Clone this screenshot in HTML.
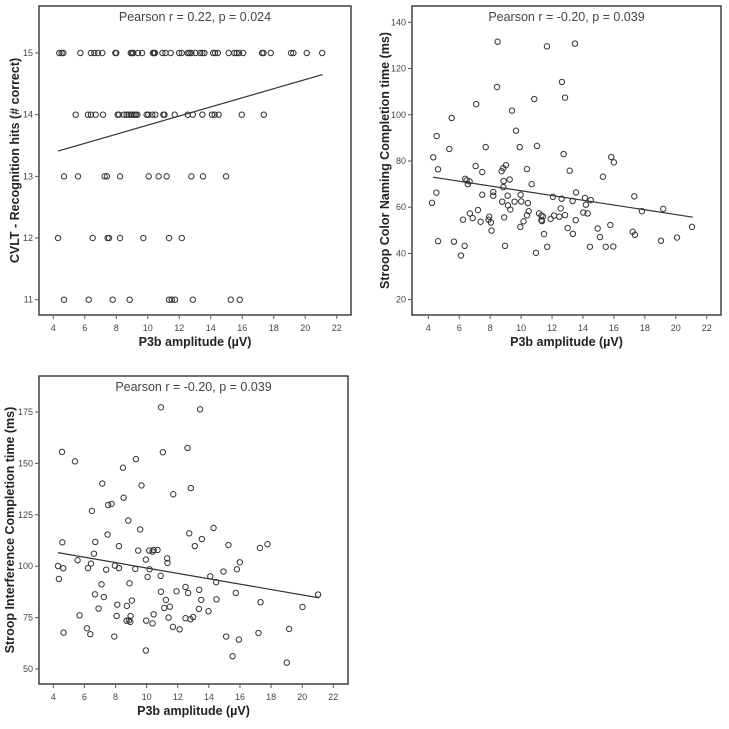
<!DOCTYPE html>
<html><head><meta charset="utf-8"><style>
body{margin:0;background:#fff;width:729px;height:724px;overflow:hidden}
svg{font-family:"Liberation Sans",sans-serif}
</style></head><body>
<svg id="c" width="729" height="724"></svg>
<script>
const xTicks=[4,6,8,10,12,14,16,18,20,22];
// Panel 1: CVLT
const p1Title="Pearson r = 0.22, p = 0.024";
const p1YTicks=[11,12,13,14,15];
const p1X=[4.38,4.53,4.64,5.72,6.39,6.61,6.84,7.11,7.94,8.0,8.92,9.0,9.08,9.38,9.64,10.33,10.4,10.46,10.93,11.12,11.46,11.99,12.16,12.54,12.64,12.77,13.03,13.32,13.47,13.6,14.15,14.28,14.45,15.14,15.5,15.65,15.8,16.06,17.26,17.35,17.81,19.1,19.25,20.1,21.08,
5.42,6.2,6.39,6.69,7.16,8.09,8.17,8.49,8.66,8.79,8.92,9.02,9.15,9.24,9.34,9.93,10.04,10.29,10.48,10.99,11.06,11.71,12.54,12.86,13.47,14.08,14.25,14.5,15.97,17.37,
4.68,5.57,7.26,7.41,8.24,10.06,10.69,11.2,12.77,13.51,14.97,
4.3,6.5,7.45,7.54,8.24,9.72,11.35,12.16,
4.68,6.25,7.77,8.85,11.35,11.52,11.73,12.86,15.27,15.84];
const p1Y=[15,15,15,15,15,15,15,15,15,15,15,15,15,15,15,15,15,15,15,15,15,15,15,15,15,15,15,15,15,15,15,15,15,15,15,15,15,15,15,15,15,15,15,15,15,
14,14,14,14,14,14,14,14,14,14,14,14,14,14,14,14,14,14,14,14,14,14,14,14,14,14,14,14,14,14,
13,13,13,13,13,13,13,13,13,13,13,
12,12,12,12,12,12,12,12,
11,11,11,11,11,11,11,11,11,11];
const p1Fit=[4.3,13.41,21.1,14.65];
// Panel 2: Stroop color naming
const p2Title="Pearson r = -0.20, p = 0.039";
const p2YTicks=[20,40,60,80,100,120,140];
const p2X=[8.48,13.48,11.67,8.44,12.64,12.84,10.85,7.10,5.51,9.41,9.67,4.54,5.36,7.71,9.91,11.03,4.32,4.63,7.06,7.49,8.74,9.02,8.85,10.38,12.75,13.14,15.83,16.0,15.29,17.32,19.19,17.81,4.24,4.52,6.39,6.48,6.56,6.67,8.87,8.85,9.26,10.68,8.2,8.2,7.49,9.13,7.21,6.24,6.69,6.87,7.38,7.94,7.9,8.05,8.09,8.78,8.91,9.15,9.3,9.58,9.97,10.01,10.44,10.49,10.38,10.16,9.95,12.06,12.62,13.33,13.55,14.13,14.19,14.5,14.02,14.3,12.56,12.84,12.47,11.91,12.13,11.16,11.31,11.41,11.35,11.31,11.48,13.01,13.35,13.53,11.69,10.96,14.95,15.1,15.47,14.45,15.96,15.77,17.21,17.36,19.04,20.08,21.05,4.63,5.66,6.35,6.11,8.96];
const p2Y=[131.6,130.8,129.6,112.0,114.2,107.4,106.8,104.6,98.6,101.8,93.1,90.8,85.2,86.0,86.0,86.5,81.6,76.4,77.8,75.2,75.6,78.2,76.9,76.5,83.0,75.8,81.7,79.4,73.2,64.7,59.3,58.3,61.9,66.3,72.3,71.6,70.0,71.2,71.3,68.7,72.0,70.0,66.6,65.0,65.4,65.0,58.8,54.6,57.3,55.3,53.7,55.9,54.6,53.4,49.9,62.4,55.6,60.8,59.0,62.4,65.4,62.5,61.8,58.3,56.5,53.9,51.5,64.5,63.7,62.7,66.4,64.0,61.1,63.1,57.7,57.3,59.5,56.6,55.9,55.0,56.4,57.3,56.4,56.0,54.0,54.4,48.4,51.0,48.5,54.4,42.9,40.3,50.8,47.1,42.9,42.9,43.0,52.3,49.4,48.1,45.5,46.9,51.5,45.3,45.1,43.3,39.1,43.3];
const p2Fit=[4.3,73.0,21.1,55.7];
// Panel 3: Stroop interference
const p3Title="Pearson r = -0.20, p = 0.039";
const p3YTicks=[50,75,100,125,150,175];
const p3X=[10.92,13.44,4.56,11.04,12.63,5.39,9.31,8.48,7.15,9.67,12.84,11.71,8.52,7.53,7.75,6.48,8.82,9.59,14.3,12.74,13.55,4.58,6.7,7.49,8.22,9.46,10.17,10.45,10.7,10.38,11.32,11.34,13.1,15.26,17.28,17.77,6.61,5.56,6.42,6.23,4.3,4.64,7.4,7.96,8.22,9.27,9.95,10.19,10.06,10.9,14.09,14.47,15.8,15.99,14.94,4.36,7.1,8.9,6.68,7.25,6.91,8.11,9.05,8.73,10.92,11.24,11.13,11.49,11.92,12.5,12.67,13.38,13.51,14.49,15.73,17.32,8.07,8.71,8.97,8.95,8.86,9.97,10.38,10.45,11.41,11.69,12.12,12.5,12.82,12.99,13.36,13.98,5.69,6.16,6.38,4.66,7.92,9.95,15.11,15.93,17.19,19.16,20.02,21.02,15.52,19.01];
const p3Y=[177.3,176.3,155.6,155.4,157.5,151.0,152.1,147.9,140.2,139.3,138.0,135.0,133.3,129.8,130.3,126.9,122.2,117.9,118.6,116.0,113.2,111.6,111.8,115.4,109.8,107.6,107.6,107.9,107.9,107.1,103.8,101.6,109.8,110.3,108.9,110.7,106.1,102.9,101.3,99.1,100.1,99.0,98.3,100.3,99.1,98.7,103.2,98.5,94.8,95.3,95.1,92.2,98.5,101.9,97.4,93.8,91.2,91.7,86.3,85.0,79.4,81.3,83.3,80.7,87.6,83.6,79.7,80.3,87.8,89.9,87.0,88.5,83.6,83.9,87.0,82.5,75.8,73.5,75.8,72.9,73.7,73.5,72.2,76.6,75.0,70.5,69.3,74.7,74.2,75.3,79.2,78.1,76.1,69.8,66.9,67.7,65.8,59.0,65.8,64.3,67.5,69.5,80.2,86.2,56.2,53.1];
const p3Fit=[4.3,106.6,21.1,84.6];

const svg=document.getElementById('c');
const NS='http://www.w3.org/2000/svg';
function mk(tag,at,parent){const e=document.createElementNS(NS,tag);for(const k in at)e.setAttribute(k,at[k]);(parent||svg).appendChild(e);return e;}

function panel(id,box,xa,ya,yTicks,xs,ys,fit,title,ytitle,ytx,xty){
  const g=mk('g',{});
  
  
  const sx=v=>xa[0]+(v-4)*(xa[1]-xa[0])/18;
  const sy=v=>ya[0]+(v-ya[2])*(ya[1]-ya[0])/(ya[3]-ya[2]);
  const r=mk('rect',{x:box[0],y:box[1],width:box[2]-box[0],height:box[3]-box[1],fill:'#fff',stroke:'#333','stroke-width':1.4},g);
  
  
  xTicks.forEach(t=>{
    const x=sx(t);
    mk('line',{x1:x,x2:x,y1:box[3],y2:box[3]+4,stroke:'#555','stroke-width':1},g);
    const tx=mk('text',{x:x,y:box[3]+16,'text-anchor':'middle','font-size':9,fill:'#444'},g);
    tx.textContent=t;
    
    
  });
  yTicks.forEach(t=>{
    const y=sy(t);
    mk('line',{x1:box[0]-4,x2:box[0],y1:y,y2:y,stroke:'#555','stroke-width':1},g);
    const tx=mk('text',{x:box[0]-6,y:y+3,'text-anchor':'end','font-size':9,fill:'#444'},g);
    tx.textContent=t;
    
    
  });
  const ln=mk('line',{x1:sx(fit[0]),y1:sy(fit[1]),x2:sx(fit[2]),y2:sy(fit[3]),stroke:'#333','stroke-width':1.2},g);
  
  
  xs.forEach((v,i)=>{
    const c=mk('circle',{cx:sx(v),cy:sy(ys[i]),r:2.7,fill:'none',stroke:'#333','stroke-width':1},g);
    
    
  });
  const tt=mk('text',{x:(box[0]+box[2])/2,y:box[1]+15,'text-anchor':'middle','font-size':12.5,fill:'#444'},g);
  tt.textContent=title;
  
  
  const xt=mk('text',{x:(box[0]+box[2])/2,y:xty,'text-anchor':'middle','font-size':12.5,'font-weight':'bold',fill:'#222'},g);
  xt.textContent='P3b amplitude (\u00b5V)';
  
  
  const cy=(box[1]+box[3])/2;
  const yt=mk('text',{x:ytx,y:cy,'text-anchor':'middle','font-size':12.5,'font-weight':'bold',fill:'#222',transform:`rotate(-90 ${ytx} ${cy})`},g);
  yt.textContent=ytitle;
  
  
}
panel('cvlt-panel',[39,6,351,315],[53.3,336.7],[53,299.7,15,11],p1YTicks,p1X,p1Y,p1Fit,p1Title,'CVLT - Recognition hits (# correct)',19,346);
panel('stroop-color-panel',[412,6,721,315],[428.3,706.7],[22.3,299.7,140,20],p2YTicks,p2X,p2Y,p2Fit,p2Title,'Stroop Color Naming Completion time (ms)',389,346);
panel('stroop-interference-panel',[39,376,348,684],[53.3,333.3],[412,669,175,50],p3YTicks,p3X,p3Y,p3Fit,p3Title,'Stroop Interference Completion time (ms)',14,715);
</script>
</body></html>
